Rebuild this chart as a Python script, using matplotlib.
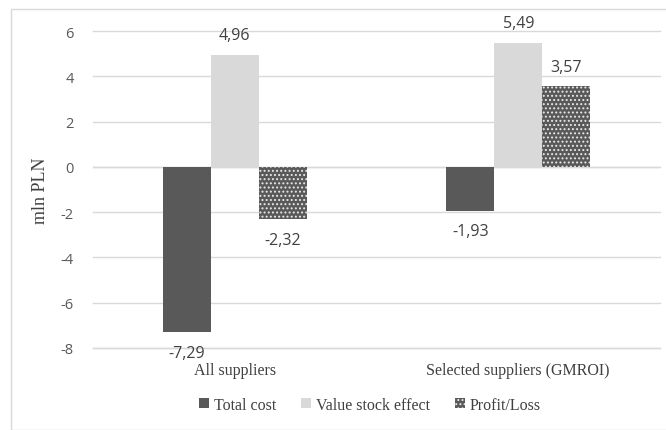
import matplotlib.pyplot as plt
import numpy as np
from matplotlib.patches import Rectangle

categories = ["All suppliers", "Selected suppliers (GMROI)"]
series_names = ["Total cost", "Value stock effect", "Profit/Loss"]
total_cost = [-7.29, -1.93]
value_stock = [4.96, 5.49]
profit_loss = [-2.32, 3.57]
yticks = [-8, -6, -4, -2, 0, 2, 4, 6]

W, H = 666, 431
fig = plt.figure(figsize=(W / 100, H / 100), dpi=100)
# outer chart border
fig.patches.append(Rectangle((11 / W, 0), 1, (H - 10) / H, transform=fig.transFigure,
                             fill=False, edgecolor="#d9d9d9", linewidth=1.0))

left, right = 93, 660
top, bottom = 32, 349
ax = fig.add_axes([left / W, 1 - bottom / H, (right - left) / W, (bottom - top) / H])
ax.set_xlim(0, 2)
ax.set_ylim(-8, 6)

bw = 0.169
x = np.array([0.5, 1.5])
serif = "Liberation Serif"
sans = "Open Sans"

b1 = ax.bar(x - bw, total_cost, bw, color="#595959", zorder=3, label=series_names[0])
b2 = ax.bar(x, value_stock, bw, color="#d9d9d9", zorder=3, label=series_names[1])
plt.rcParams["hatch.linewidth"] = 0.9
b3 = ax.bar(x + bw, profit_loss, bw, facecolor="#595959", edgecolor="#e8e8e8", hatch="....",
            linewidth=0, zorder=3, label=series_names[2])

def fmt(v):
    return f"{v:.2f}".replace(".", ",")

for bars, vals in [(b1, total_cost), (b2, value_stock), (b3, profit_loss)]:
    for rect, v in zip(bars, vals):
        cx = rect.get_x() + rect.get_width() / 2
        off = 14 if v >= 0 else -15
        ax.annotate(fmt(v), (cx, v), xytext=(0, off), textcoords="offset points",
                    ha="center", va="center", fontsize=11.5, color="#404040", family=sans)

ax.set_yticks(yticks)
ax.set_yticklabels([str(t) for t in yticks], family=sans, fontsize=10.5, color="#595959")
ax.tick_params(axis="y", length=0, pad=14)
ax.grid(axis="y", color="#d9d9d9", linewidth=1.0, zorder=0, clip_on=False)
for gl in ax.get_ygridlines():
    gl.set_clip_on(False)
ax.set_xticks(x)
ax.set_xticklabels(categories, family=serif, fontsize=11.5, color="#404040")
ax.tick_params(axis="x", length=0, pad=10)
for s in ax.spines.values():
    s.set_visible(False)
ax.axhline(-8, color="#d9d9d9", linewidth=1.0, zorder=1, clip_on=False)
ax.axhline(0, color="#d9d9d9", linewidth=1.0, zorder=2)

ax.set_ylabel("mln PLN", family=serif, fontsize=13, color="#404040", labelpad=8)

leg = fig.legend(handles=[b1, b2, b3], labels=series_names, loc="center",
                 bbox_to_anchor=(370 / W, 1 - 406 / H), ncol=3, frameon=False,
                 prop={"family": serif, "size": 11.5}, handlelength=0.6, handleheight=0.6,
                 handletextpad=0.3, columnspacing=1.6)
for t in leg.get_texts():
    t.set_color("#404040")

fig.savefig("out.png", dpi=100)
